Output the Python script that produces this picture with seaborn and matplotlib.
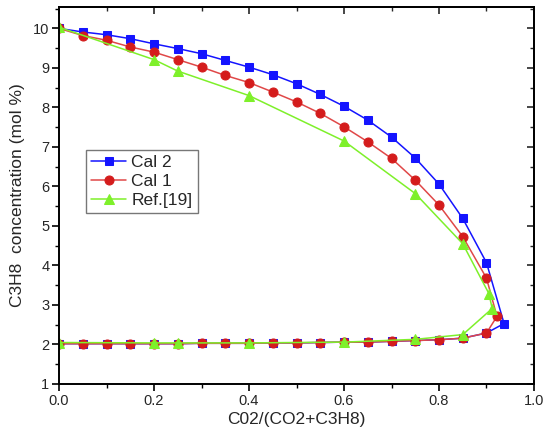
import matplotlib
matplotlib.use("Agg")
import matplotlib.pyplot as plt
import seaborn as sns
import numpy as np

# ---- data ----
cal2_x = [0.0, 0.05, 0.1, 0.15, 0.2, 0.25, 0.3, 0.35, 0.4, 0.45, 0.5, 0.55, 0.6, 0.65, 0.7, 0.75, 0.8, 0.85, 0.9, 0.937,
          0.9, 0.85, 0.8, 0.75, 0.7, 0.65, 0.6, 0.55, 0.5, 0.45, 0.4, 0.35, 0.3, 0.25, 0.2, 0.15, 0.1, 0.05, 0.0]
cal2_y = [10.0, 9.91, 9.84, 9.74, 9.61, 9.49, 9.36, 9.19, 9.02, 8.83, 8.60, 8.33, 8.03, 7.68, 7.25, 6.72, 6.06, 5.19, 4.07, 2.53,
          2.29, 2.16, 2.12, 2.10, 2.08, 2.06, 2.06, 2.05, 2.04, 2.04, 2.03, 2.03, 2.03, 2.02, 2.02, 2.02, 2.02, 2.02, 2.02]

cal1_x = [0.0, 0.05, 0.1, 0.15, 0.2, 0.25, 0.3, 0.35, 0.4, 0.45, 0.5, 0.55, 0.6, 0.65, 0.7, 0.75, 0.8, 0.85, 0.9, 0.922,
          0.9, 0.85, 0.8, 0.75, 0.7, 0.65, 0.6, 0.55, 0.5, 0.45, 0.4, 0.35, 0.3, 0.25, 0.2, 0.15, 0.1, 0.05, 0.0]
cal1_y = [10.0, 9.82, 9.70, 9.53, 9.40, 9.21, 9.02, 8.81, 8.63, 8.39, 8.14, 7.85, 7.51, 7.13, 6.71, 6.16, 5.53, 4.73, 3.68, 2.71,
          2.29, 2.16, 2.12, 2.10, 2.08, 2.06, 2.06, 2.05, 2.04, 2.04, 2.03, 2.03, 2.03, 2.02, 2.02, 2.02, 2.02, 2.02, 2.02]

ref_x = [0.0, 0.2, 0.25, 0.4, 0.6, 0.75, 0.85, 0.905, 0.912,
         0.85, 0.75, 0.6, 0.4, 0.25, 0.2, 0.0]
ref_y = [10.03, 9.21, 8.92, 8.30, 7.15, 5.82, 4.55, 3.29, 2.91,
         2.25, 2.13, 2.06, 2.04, 2.04, 2.04, 2.05]

labels = ["Cal 2", "Cal 1", "Ref.[19]"]
x_ticks = [0.0, 0.2, 0.4, 0.6, 0.8, 1.0]
y_ticks = [1, 2, 3, 4, 5, 6, 7, 8, 9, 10]

sns.set_theme(style="ticks")
plt.rcParams['font.family'] = ['Liberation Sans', 'DejaVu Sans']

fig = plt.figure(figsize=(5.44, 4.37), dpi=100)
ax = fig.add_axes([0.1085, 0.1213, 0.8731, 0.8634])

sns.lineplot(x=cal2_x, y=cal2_y, sort=False, estimator=None, ax=ax, color="#1414ff",
             marker="s", markersize=5.5, markeredgecolor="#1414ff", linewidth=1.1, label=labels[0])
sns.lineplot(x=cal1_x, y=cal1_y, sort=False, estimator=None, ax=ax, color="#e04848",
             marker="o", markersize=6.5, markerfacecolor="#d41c1c", markeredgecolor="#d41c1c",
             linewidth=1.1, label=labels[1])
sns.lineplot(x=ref_x, y=ref_y, sort=False, estimator=None, ax=ax, color="#7ef02a",
             marker="^", markersize=6.5, markeredgecolor="#7ef02a", linewidth=1.1, label=labels[2])

ax.set_xlim(0, 1.0)
ax.set_ylim(1, 10.55)
ax.set_xticks(x_ticks)
ax.set_xticklabels([f"{v:.1f}" for v in x_ticks])
ax.set_yticks(y_ticks)
ax.set_xticks(np.arange(0.1, 1.0, 0.2), minor=True)
ax.set_yticks(np.arange(1.5, 10.6, 1.0), minor=True)
ax.tick_params(which="major", direction="out", length=5, width=1.2, labelsize=10.5, color="black", pad=2)
ax.tick_params(which="minor", direction="out", length=3, width=1.0, color="black")
for s in ax.spines.values():
    s.set_linewidth(1.4)
    s.set_color("black")

# mirrored ticks pointing inward on top/right
top = ax.secondary_xaxis("top")
top.set_xticks(x_ticks)
top.set_xticks(np.arange(0.1, 1.0, 0.2), minor=True)
top.tick_params(which="major", direction="in", length=5, width=1.2, labeltop=False)
top.tick_params(which="minor", direction="in", length=3, width=1.0)
right = ax.secondary_yaxis("right")
right.set_yticks(y_ticks)
right.set_yticks(np.arange(1.5, 10.6, 1.0), minor=True)
right.tick_params(which="major", direction="in", length=5, width=1.2, labelright=False)
right.tick_params(which="minor", direction="in", length=3, width=1.0)

ax.set_xlabel("C02/(CO2+C3H8)", fontsize=12.5, labelpad=3)
ax.set_ylabel("C3H8  concentration (mol %)", fontsize=12.5, labelpad=6)

leg = ax.legend(loc="upper left", bbox_to_anchor=(0.057, 0.62), fontsize=12.5, frameon=True,
                fancybox=False, edgecolor="#555555", handlelength=2.0, handletextpad=0.3,
                borderpad=0.3, labelspacing=0.2, borderaxespad=0)
leg.get_frame().set_linewidth(1.0)

fig.savefig("out.png", dpi=100)
